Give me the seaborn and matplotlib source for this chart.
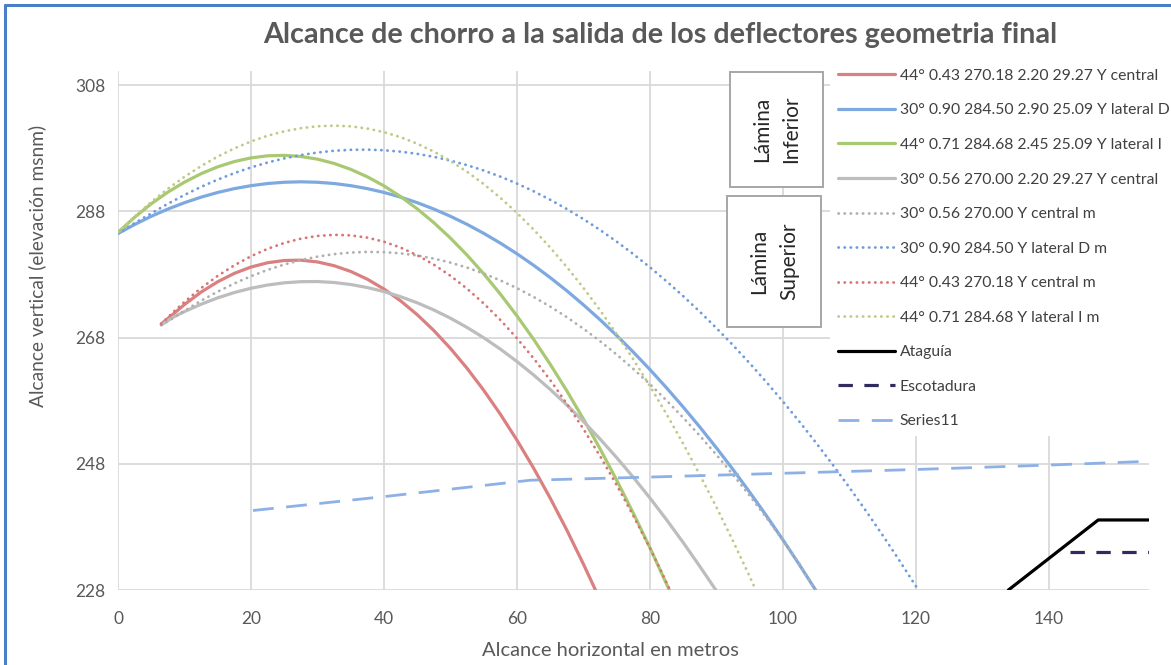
import matplotlib
matplotlib.use("Agg")
import matplotlib.pyplot as plt
import seaborn as sns
import pandas as pd
from matplotlib.lines import Line2D
from matplotlib.patches import Rectangle

sns.set_theme(style="whitegrid")
plt.rcParams['font.family'] = ['Lato', 'DejaVu Sans']

# ---- trajectory data (horizontal distance m, elevation msnm) ----
red_x = [6.5, 8.25, 10, 12.5, 15, 17.5, 20, 22.5, 25, 27.5, 30, 32.5, 35, 37.5,
         40, 42.5, 45, 47.5, 50, 52.5, 55, 57.5, 60, 62.5, 65, 67.5, 70, 71.8]
red_y = [270.18, 271.68, 273.25, 275.22, 276.86, 278.19, 279.19, 279.87, 280.23,
         280.28, 280.00, 279.40, 278.49, 277.26, 275.70, 273.83, 271.63, 269.12,
         266.28, 263.13, 259.65, 255.86, 251.74, 247.31, 242.55, 237.48, 232.08, 228.0]

blue_x = [0, 2.5, 5, 7.5, 10, 12.5, 15, 17.5, 20, 22.5, 25, 27.5, 30, 32.5, 35,
          37.5, 40, 42.5, 45, 47.5, 50, 52.5, 55, 57.5, 60, 62.5, 65, 67.5, 70,
          72.5, 75, 77.5, 80, 82.5, 85, 87.5, 90, 92.5, 95, 97.5, 100, 102.5, 104.9]
blue_y = [284.50, 285.93, 287.23, 288.38, 289.39, 290.27, 291.01, 291.62, 292.09,
          292.43, 292.63, 292.70, 292.63, 292.43, 292.09, 291.62, 291.01, 290.27,
          289.39, 288.38, 287.23, 285.95, 284.53, 282.98, 281.29, 279.47, 277.51,
          275.42, 273.19, 270.83, 268.33, 265.70, 262.93, 260.03, 256.99, 253.82,
          250.51, 247.07, 243.49, 239.78, 235.93, 231.95, 228.0]

green_x = [0, 2.5, 5, 7.5, 10, 12.5, 15, 17.5, 20, 22.5, 25, 27.5, 30, 32.5, 35,
           37.5, 40, 42.5, 45, 47.5, 50, 52.5, 55, 57.5, 60, 62.5, 65, 67.5, 70,
           72.5, 75, 77.5, 80, 82.9]
green_y = [284.68, 287.08, 289.22, 291.07, 292.65, 293.99, 295.08, 295.91, 296.49,
           296.82, 296.89, 296.72, 296.29, 295.61, 294.67, 293.49, 292.05, 290.36,
           288.41, 286.22, 283.77, 281.07, 278.11, 274.90, 271.44, 267.73, 263.77,
           259.55, 255.08, 250.36, 245.39, 240.16, 234.68, 228.0]

gray_x = [6.5, 8.25, 10, 12.5, 15, 17.5, 20, 22.5, 25, 27.5, 30, 32.5, 35, 37.5,
          40, 42.5, 45, 47.5, 50, 52.5, 55, 57.5, 60, 62.5, 65, 67.5, 70, 72.5,
          75, 77.5, 80, 82.5, 85, 87.5, 89.9]
gray_y = [270.00, 271.22, 272.13, 273.30, 274.31, 275.15, 275.83, 276.34, 276.69,
          276.87, 276.89, 276.74, 276.42, 275.94, 275.30, 274.49, 273.52, 272.38,
          271.08, 269.61, 267.98, 266.18, 264.21, 262.08, 259.79, 257.33, 254.71,
          251.92, 248.97, 245.85, 242.57, 239.12, 235.51, 231.73, 228.0]

gray_m_x = [6.5, 8.25, 10, 12.5, 15, 17.5, 20, 22.5, 25, 27.5, 30, 32.5, 35, 37.5,
            40, 42.5, 45, 47.5, 50, 52.5, 55, 57.5, 60, 62.5, 65, 67.5, 70, 72.5,
            75, 77.5, 80, 82.5, 85, 87.5, 90, 92.5, 95, 97.5, 100, 102.5, 104.9]
gray_m_y = [270.00, 271.07, 272.27, 273.86, 275.30, 276.59, 277.74, 278.74, 279.59,
            280.29, 280.84, 281.24, 281.49, 281.59, 281.55, 281.36, 281.02, 280.53,
            279.89, 279.10, 278.16, 277.07, 275.84, 274.45, 272.92, 271.24, 269.41,
            267.43, 265.31, 263.03, 260.61, 258.03, 255.31, 252.44, 249.42, 246.25,
            242.94, 239.47, 235.86, 232.09, 228.0]

blue_m_x = [0, 2.5, 5, 7.5, 10, 12.5, 15, 17.5, 20, 22.5, 25, 27.5, 30, 32.5, 35,
            37.5, 40, 42.5, 45, 47.5, 50, 52.5, 55, 57.5, 60, 62.5, 65, 67.5, 70,
            72.5, 75, 77.5, 80, 82.5, 85, 87.5, 90, 92.5, 95, 97.5, 100, 102.5,
            105, 107.5, 110, 112.5, 115, 117.5, 120, 120.4]
blue_m_y = [284.50, 286.16, 287.69, 289.22, 290.62, 291.90, 293.05, 294.08, 294.98,
            295.76, 296.41, 296.94, 297.34, 297.62, 297.77, 297.80, 297.70, 297.48,
            297.13, 296.66, 296.06, 295.34, 294.49, 293.52, 292.42, 291.20, 289.85,
            288.38, 286.78, 285.06, 283.21, 281.24, 279.14, 276.92, 274.57, 272.10,
            269.50, 266.78, 263.93, 260.96, 257.86, 254.64, 251.29, 247.82, 244.22,
            240.50, 236.65, 232.68, 228.58, 228.0]

red_m_x = [6.5, 8.25, 10, 12.5, 15, 17.5, 20, 22.5, 25, 27.5, 30, 32.5, 35, 37.5,
           40, 42.5, 45, 47.5, 50, 52.5, 55, 57.5, 60, 62.5, 65, 67.5, 70, 72.5,
           75, 77.5, 80, 81.5, 83.0]
red_m_y = [270.18, 271.99, 273.67, 275.86, 277.79, 279.47, 280.90, 282.08, 283.01,
           283.69, 284.12, 284.30, 284.21, 283.85, 283.20, 282.27, 281.06, 279.57,
           277.80, 275.75, 273.41, 270.80, 267.90, 264.72, 261.26, 257.52, 253.50,
           249.20, 244.61, 239.75, 234.60, 231.38, 228.0]

green_m_x = [0, 2.5, 5, 7.5, 10, 12.5, 15, 17.5, 20, 22.5, 25, 27.5, 30, 32.5, 35,
             37.5, 40, 42.5, 45, 47.5, 50, 52.5, 55, 57.5, 60, 62.5, 65, 67.5, 70,
             72.5, 75, 77.5, 80, 82.5, 85, 87.5, 90, 92.5, 95, 95.9]
green_m_y = [284.68, 287.19, 289.50, 291.60, 293.50, 295.20, 296.70, 298.00, 299.10,
             300.00, 300.70, 301.20, 301.50, 301.60, 301.49, 301.14, 300.57, 299.77,
             298.74, 297.48, 296.00, 294.28, 292.34, 290.16, 287.76, 285.13, 282.27,
             279.18, 275.87, 272.32, 268.55, 264.54, 260.31, 255.85, 251.16, 246.24,
             241.10, 235.72, 230.12, 228.0]

ataguia_x = [133.9, 147.4, 155]
ataguia_y = [228.0, 239.1, 239.1]

escotadura_x = [143.2, 155]
escotadura_y = [234.0, 234.0]

series11_x = [20.3, 40, 62, 80, 100, 120, 140, 155]
series11_y = [240.6, 242.8, 245.4, 245.9, 246.5, 247.1, 247.8, 248.4]

labels = [
    "44° 0.43 270.18 2.20 29.27 Y central",
    "30° 0.90 284.50 2.90 25.09 Y lateral D",
    "44° 0.71 284.68 2.45 25.09 Y lateral I",
    "30° 0.56 270.00 2.20 29.27 Y central",
    "30° 0.56 270.00 Y central m",
    "30° 0.90 284.50 Y lateral D m",
    "44° 0.43 270.18 Y central m",
    "44° 0.71 284.68 Y lateral I m",
    "Ataguía",
    "Escotadura",
    "Series11",
]

DOT = (0, (0.1, 2.1))
series = [
    (red_x, red_y, "#DB8080", "-", 2.3),
    (blue_x, blue_y, "#7DA9E0", "-", 2.3),
    (green_x, green_y, "#A8C972", "-", 2.3),
    (gray_x, gray_y, "#BDBDBD", "-", 2.3),
    (gray_m_x, gray_m_y, "#AFAFAF", DOT, 2.0),
    (blue_m_x, blue_m_y, "#6E9BDC", DOT, 2.0),
    (red_m_x, red_m_y, "#D97474", DOT, 2.0),
    (green_m_x, green_m_y, "#BCCB86", DOT, 2.0),
    (ataguia_x, ataguia_y, "#000000", "-", 2.3),
    (escotadura_x, escotadura_y, "#2F2B5C", (0, (4.5, 3.6)), 2.3),
    (series11_x, series11_y, "#8DB1E6", (0, (7.5, 4.5)), 2.0),
]

W, H = 1171, 665
fig = plt.figure(figsize=(W / 100, H / 100), dpi=100)
fig.patch.set_facecolor("white")
ax = fig.add_axes([118 / W, 75 / H, 1030.75 / W, 518.6 / H])
ax.set_facecolor("white")

handles = []
for (xs, ys, col, ls, lw), lab in zip(series, labels):
    df = pd.DataFrame({"x": xs, "y": ys})
    sns.lineplot(data=df, x="x", y="y", ax=ax, color=col, linewidth=lw,
                 sort=False, estimator=None, legend=False)
    line = ax.lines[-1]
    line.set_linestyle(ls)
    line.set_solid_joinstyle("round")
    if ls == DOT:
        line.set_dash_capstyle("round")
    handles.append(Line2D([], [], color=col, lw=lw, linestyle=ls,
                          dash_capstyle="round" if ls == DOT else "butt"))

ax.set_xlim(0, 155)
ax.set_ylim(228, 310.2)
ax.set_xticks([0, 20, 40, 60, 80, 100, 120, 140])
ax.set_yticks([228, 248, 268, 288, 308])
ax.grid(True, color="#D9D9D9", linewidth=1.3)
for s in ax.spines.values():
    s.set_visible(False)
ax.tick_params(axis="both", length=0, labelsize=12.5, labelcolor="#595959")
ax.tick_params(axis="x", pad=15)
ax.tick_params(axis="y", pad=9)
ax.set_xlabel("")
ax.set_ylabel("")

fig.text(610 / W, 1 - 651 / H, "Alcance horizontal en metros",
         ha="center", va="center", fontsize=14.5, color="#595959")
fig.text(37 / W, 1 - 266 / H, "Alcance vertical (elevación msnm)",
         ha="center", va="center", rotation=90, fontsize=13.8, color="#595959")

fig.text(660 / W, 1 - 35 / H,
         "Alcance de chorro a la salida de los deflectores geometria final",
         ha="center", va="center", fontsize=20.7, fontweight="bold", color="#595959")

leg = ax.legend(handles, labels, loc="upper left",
                bbox_to_anchor=(830 / W, 1 - 61 / H),
                bbox_transform=fig.transFigure, frameon=True, fancybox=False,
                fontsize=11.3, handlelength=3.65, handletextpad=0.3,
                labelspacing=1.31, borderpad=0.5, borderaxespad=0)
leg.get_frame().set_facecolor("white")
leg.get_frame().set_edgecolor("none")
leg.get_frame().set_alpha(1)
for t in leg.get_texts():
    t.set_color("#404040")


# annotation boxes for the two jet sheets
def sheet_box(x0, y0, x1, y1, text):
    box = Rectangle((x0 / W, 1 - y1 / H), (x1 - x0) / W, (y1 - y0) / H,
                    transform=fig.transFigure, facecolor="white",
                    edgecolor="#A6A6A6", linewidth=1.4, zorder=5)
    fig.add_artist(box)
    fig.text((x0 + x1) / 2 / W, 1 - (y0 + y1) / 2 / H, text,
             rotation=90, ha="center", va="center", multialignment="center",
             fontsize=15, color="#262626", linespacing=1.6, zorder=6)


sheet_box(730, 72, 823, 187, "Lámina\nInferior")
sheet_box(727, 196, 821, 327, "Lámina\nSuperior")

# outer chart border
border_col = "#4A7EC7"
fig.add_artist(Line2D([5.5 / W, 5.5 / W], [0, 1 - 5 / H],
                      transform=fig.transFigure, color=border_col, lw=2.2))
fig.add_artist(Line2D([5.5 / W, 1], [1 - 5 / H, 1 - 5 / H],
                      transform=fig.transFigure, color=border_col, lw=2.2))

fig.savefig("out.png", dpi=100, facecolor="white")
